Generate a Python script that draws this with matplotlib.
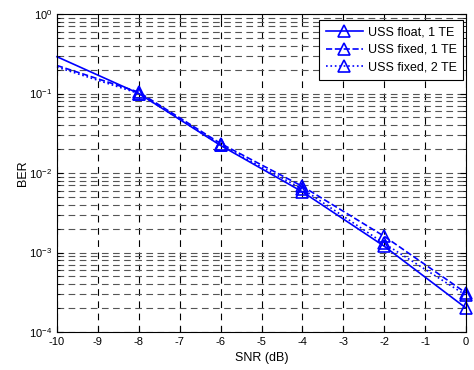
import matplotlib
matplotlib.use("Agg")
import matplotlib.pyplot as plt
from matplotlib.ticker import LogLocator, NullFormatter

snr = [-10, -8, -6, -4, -2, 0]
ber_float_1te = [0.29, 0.100, 0.0222, 0.0058, 0.00120, 0.00020]
ber_fixed_1te = [0.225, 0.104, 0.0235, 0.0068, 0.00160, 0.00031]
ber_fixed_2te = [0.215, 0.100, 0.0225, 0.0063, 0.00130, 0.00029]
labels = ["USS float, 1 TE", "USS fixed, 1 TE", "USS fixed, 2 TE"]

plt.rcParams["font.family"] = ["Liberation Sans", "DejaVu Sans"]
plt.rcParams["font.size"] = 8
plt.rcParams["axes.unicode_minus"] = False

fig = plt.figure(figsize=(4.74, 3.70), dpi=100)
ax = fig.add_axes([57 / 474, 38 / 370, 409 / 474, 318 / 370])

style = dict(color="blue", lw=1.2, marker="^", ms=9, mfc="none", mew=1.2,
             markevery=[1, 2, 3, 4, 5], clip_on=False)
ax.semilogy(snr, ber_float_1te, ls="-", label=labels[0], **style)
ax.semilogy(snr, ber_fixed_1te, ls="--", label=labels[1], **style)
ax.semilogy(snr, ber_fixed_2te, ls=":", label=labels[2], **style)

ax.set_xlim(-10, 0)
ax.set_ylim(1e-4, 1)
ax.set_xticks(range(-10, 1))
ax.yaxis.set_major_locator(LogLocator(base=10, numticks=10))
ax.yaxis.set_minor_locator(LogLocator(base=10, subs=range(2, 10), numticks=10))
ax.yaxis.set_minor_formatter(NullFormatter())

ax.grid(True, which="major", axis="x", color="black", ls=(0, (6, 5)), lw=0.8)
ax.grid(True, which="both", axis="y", color="#555555", ls=(0, (6, 4)), lw=0.8)
ax.tick_params(which="both", direction="in", top=True, right=True, colors="black")
ax.tick_params(which="major", length=4)
ax.tick_params(which="minor", length=2)
for s in ax.spines.values():
    s.set_linewidth(0.8)

ax.set_xlabel("SNR (dB)", fontsize=9)
ax.set_ylabel("BER", fontsize=9)
ax.yaxis.set_label_coords(-0.068, 0.5)

leg = ax.legend(loc="upper right", bbox_to_anchor=(0.993, 0.981), fancybox=False,
                framealpha=1, edgecolor="black", borderaxespad=0, borderpad=0.5,
                handlelength=3.0, handletextpad=0.4, labelspacing=0.45, fontsize=9)
leg.get_frame().set_linewidth(0.8)

fig.savefig("out.png", dpi=100)
